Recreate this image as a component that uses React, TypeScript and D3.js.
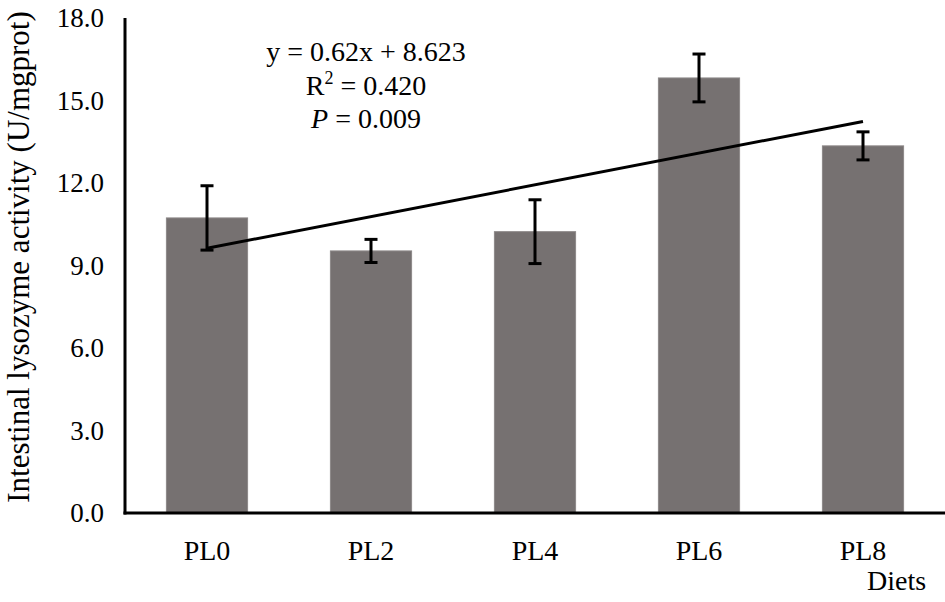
import React from "react";
import * as d3 from "d3";

const categories = ["PL0", "PL2", "PL4", "PL6", "PL8"];
const means = [10.73, 9.53, 10.23, 15.82, 13.35];
const errors = [1.17, 0.42, 1.16, 0.87, 0.51];
const yTicks = [0, 3, 6, 9, 12, 15, 18];
const equationLines = ["y = 0.62x + 8.623", "R² = 0.420", "P = 0.009"];

const W = 945;
const H = 602;
const margin = { left: 125, right: 0, top: 18, bottom: 89 };
const FONT = "'Liberation Serif', 'Times New Roman', serif";

export default function App() {
  const x = d3
    .scaleBand<string>()
    .domain(categories)
    .range([margin.left, W - margin.right])
    .paddingInner(0.505)
    .paddingOuter(0.2525);
  const y = d3.scaleLinear().domain([0, 18]).range([H - margin.bottom, margin.top]);

  // linear regression over category index (1..n)
  const xs = means.map((_, i) => i + 1);
  const mx = d3.mean(xs)!;
  const my = d3.mean(means)!;
  const slope =
    d3.sum(xs.map((xi, i) => (xi - mx) * (means[i] - my))) /
    d3.sum(xs.map((xi) => (xi - mx) * (xi - mx)));
  const intercept = my - slope * mx;
  const cx = (c: string) => (x(c) as number) + x.bandwidth() / 2;
  const trend = d3
    .line<number>()
    .x((i) => cx(categories[i]))
    .y((i) => y(intercept + slope * (i + 1)));

  const capW = 13;

  return (
    <svg
      width={W}
      height={H}
      style={{ position: "absolute", left: 0, top: 0, background: "#fff" }}
      fontFamily={FONT}
    >
      {/* bars */}
      {categories.map((c, i) => (
        <rect
          key={c}
          x={x(c)}
          y={y(means[i])}
          width={x.bandwidth()}
          height={y(0) - y(means[i])}
          fill="#767171"
          stroke="#8c8888"
          strokeWidth={1}
        />
      ))}
      {/* trend line */}
      <path
        d={trend([0, categories.length - 1]) || ""}
        stroke="#000"
        strokeWidth={3}
        fill="none"
      />
      {/* error bars */}
      {categories.map((c, i) => {
        const xc = cx(c);
        const top = y(means[i] + errors[i]);
        const bot = y(means[i] - errors[i]);
        return (
          <g key={c} stroke="#000" strokeWidth={3}>
            <line x1={xc} x2={xc} y1={top} y2={bot} />
            <line x1={xc - capW / 2} x2={xc + capW / 2} y1={top} y2={top} />
            <line x1={xc - capW / 2} x2={xc + capW / 2} y1={bot} y2={bot} />
          </g>
        );
      })}
      {/* axes */}
      <line x1={margin.left} x2={margin.left} y1={y(18)} y2={y(0) + 1.5} stroke="#000" strokeWidth={3} />
      <line x1={margin.left - 1.5} x2={W - margin.right} y1={y(0)} y2={y(0)} stroke="#000" strokeWidth={3} />
      {/* y tick labels */}
      {yTicks.map((t) => (
        <text
          key={t}
          x={margin.left - 21}
          y={y(t)}
          dy="0.34em"
          textAnchor="end"
          fontSize={27}
          fill="#000"
        >
          {t.toFixed(1)}
        </text>
      ))}
      {/* x labels */}
      {categories.map((c) => (
        <text key={c} x={cx(c)} y={560} textAnchor="middle" fontSize={28} fill="#000">
          {c}
        </text>
      ))}
      <text x={867} y={590} fontSize={28} fill="#000">
        Diets
      </text>
      {/* y title */}
      <text
        transform={`translate(28.5, 257) rotate(-90)`}
        textAnchor="middle"
        fontSize={31}
        fill="#000"
      >
        Intestinal lysozyme activity (U/mgprot)
      </text>
      {/* equation */}
      <text x={366} y={61} textAnchor="middle" fontSize={28} fill="#000">
        {equationLines[0]}
      </text>
      <text x={366} y={95} textAnchor="middle" fontSize={28} fill="#000">
        <tspan>R</tspan>
        <tspan fontSize={18} dy={-11}>2</tspan>
        <tspan dy={11}>{equationLines[1].slice(2)}</tspan>
      </text>
      <text x={366} y={128} textAnchor="middle" fontSize={28} fill="#000">
        <tspan fontStyle="italic">{equationLines[2].slice(0, 1)}</tspan>
        <tspan>{equationLines[2].slice(1)}</tspan>
      </text>
    </svg>
  );
}
